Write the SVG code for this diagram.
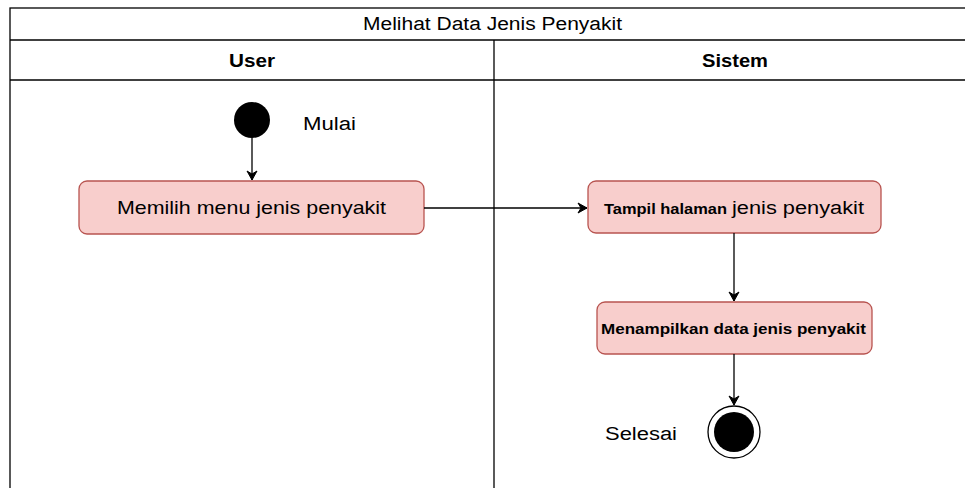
<svg xmlns="http://www.w3.org/2000/svg" width="965" height="488" viewBox="0 0 965 488">
<style>
.lane{fill:#fff;stroke:#000;stroke-width:1.3}
.act{fill:#f8cecc;stroke:#b85450;stroke-width:1.3}
.t{font-family:"Liberation Sans",Arial,sans-serif;fill:#000}
.conn{stroke:#000;stroke-width:1.3;fill:none}
</style>
<defs>
<marker id="arr" markerWidth="12" markerHeight="12" refX="10" refY="6" orient="auto" markerUnits="userSpaceOnUse">
<path d="M1,1 L10,6 L1,11 L4,6 Z" fill="#000" stroke="#000" stroke-width="1"/>
</marker>
</defs>
<rect width="965" height="488" fill="#fff"/>
<g id="pool">
<rect class="lane" x="10" y="8" width="970" height="500"/>
<line class="conn" x1="10" y1="40" x2="965" y2="40"/>
<line class="conn" x1="10" y1="80" x2="965" y2="80"/>
<line class="conn" x1="494" y1="40" x2="494" y2="488"/>
<text class="t" x="363" y="30" font-size="18" textLength="259" lengthAdjust="spacingAndGlyphs">Melihat Data Jenis Penyakit</text>
<text class="t" x="229" y="67" font-size="18" font-weight="bold" textLength="46" lengthAdjust="spacingAndGlyphs">User</text>
<text class="t" x="702" y="67" font-size="18" font-weight="bold" textLength="66" lengthAdjust="spacingAndGlyphs">Sistem</text>
</g>
<g id="start">
<circle cx="252" cy="120" r="18" fill="#000"/>
<text class="t" x="303" y="130" font-size="18" textLength="53" lengthAdjust="spacingAndGlyphs">Mulai</text>
</g>
<g id="act1">
<rect class="act" x="79" y="181" width="345" height="53" rx="8"/>
<text class="t" x="117" y="214" font-size="19" textLength="269" lengthAdjust="spacingAndGlyphs">Memilih menu jenis penyakit</text>
</g>
<g id="act2">
<rect class="act" x="588" y="181" width="293" height="52" rx="8"/>
<text class="t" x="604" y="214" font-size="15" font-weight="bold" textLength="123" lengthAdjust="spacingAndGlyphs">Tampil halaman</text>
<text class="t" x="732" y="214" font-size="18" textLength="132" lengthAdjust="spacingAndGlyphs">jenis penyakit</text>
</g>
<g id="act3">
<rect class="act" x="597" y="302" width="275" height="52" rx="8"/>
<text class="t" x="601" y="334" font-size="15" font-weight="bold" textLength="265" lengthAdjust="spacingAndGlyphs">Menampilkan data jenis penyakit</text>
</g>
<g id="end">
<circle cx="734" cy="432" r="26" fill="#fff" stroke="#000" stroke-width="1.3"/>
<circle cx="734" cy="432" r="20" fill="#000"/>
<text class="t" x="605" y="440" font-size="18" textLength="72" lengthAdjust="spacingAndGlyphs">Selesai</text>
</g>
<g id="connectors">
<line class="conn" x1="252" y1="138" x2="252" y2="180" marker-end="url(#arr)"/>
<line class="conn" x1="424" y1="208" x2="587" y2="208" marker-end="url(#arr)"/>
<line class="conn" x1="734" y1="233" x2="734" y2="301" marker-end="url(#arr)"/>
<line class="conn" x1="734" y1="354" x2="734" y2="405" marker-end="url(#arr)"/>
</g>
</svg>
